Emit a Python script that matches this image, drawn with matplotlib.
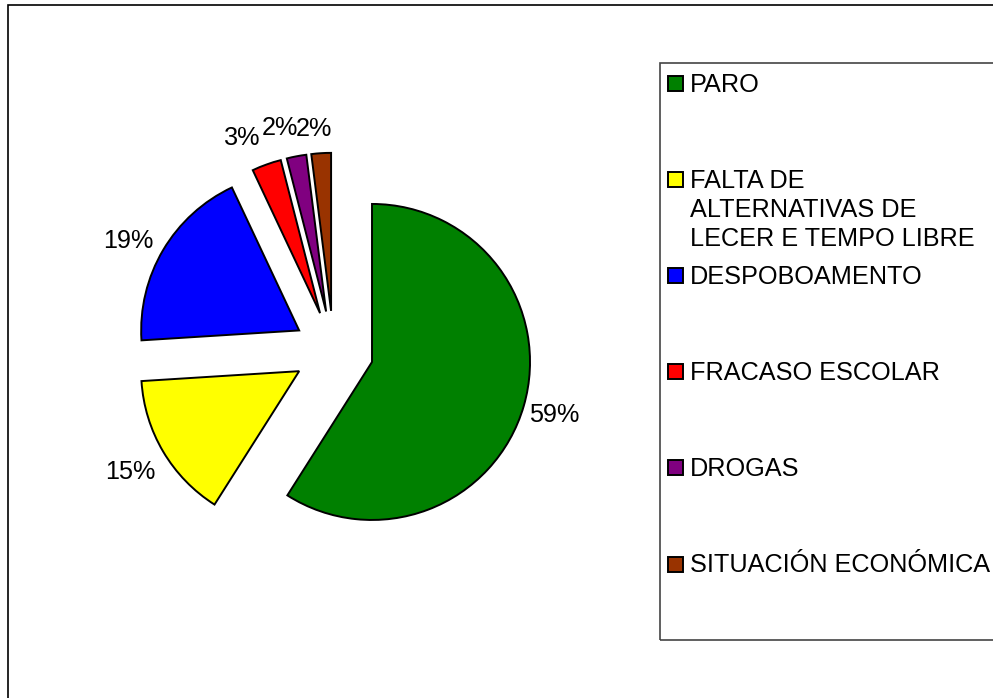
import numpy as np
import matplotlib
matplotlib.use('Agg')
import matplotlib.pyplot as plt
from matplotlib.patches import Rectangle

# Datos del gráfico
categorias = ['PARO',
              'FALTA DE\nALTERNATIVAS DE\nLECER E TEMPO LIBRE',
              'DESPOBOAMENTO',
              'FRACASO ESCOLAR',
              'DROGAS',
              'SITUACIÓN ECONÓMICA']
porcentajes = [59, 15, 19, 3, 2, 2]
colores = ['#008000', '#FFFF00', '#0000FF', '#FF0000', '#800080', '#993300']

plt.rcParams['font.family'] = ['Liberation Sans', 'DejaVu Sans']
FS = 18.2
W, H = 993, 698

fig = plt.figure(figsize=(W / 100, H / 100), dpi=100)
ax = fig.add_axes([0, 0, 1, 1])

# Tarta con todos los sectores separados (explode en unidades absolutas)
cx, cy, r = 333.6, H - 350.8, 158
wedges, textos, pcts = ax.pie(
    porcentajes, colors=colores, startangle=90, counterclock=False,
    explode=[40] * len(porcentajes), center=(cx, cy), radius=r,
    autopct='%1.0f%%', pctdistance=1.2, labels=None,
    wedgeprops=dict(edgecolor='black', linewidth=1.4),
    textprops=dict(fontsize=FS, color='black'))

# pequeños ajustes de las etiquetas (como las coloca Excel)
ajustes = {1: (-6, -4), 2: (-8, -7), 3: (-14, -3), 4: (-11, -3), 5: (-5, -7)}
for i, (dx, dy) in ajustes.items():
    x, y = pcts[i].get_position()
    pcts[i].set_position((x + dx, y + dy))

ax.set_xlim(0, W)
ax.set_ylim(0, H)
ax.set_aspect('equal')
ax.axis('off')

# Marco exterior
ax.add_patch(Rectangle((8, -20), W + 20, H - 5 + 20, fill=False,
                       edgecolor='black', linewidth=1.2, clip_on=False))

# Leyenda dibujada a mano (estilo Excel)
ax.add_patch(Rectangle((660, H - 640), W, 640 - 63, fill=False,
                       edgecolor='#444444', linewidth=1.2, clip_on=False))
ys = np.linspace(83, 564, len(categorias))
for y0, cat, col in zip(ys, categorias, colores):
    ax.add_patch(Rectangle((668, H - (y0 + 7.5)), 15, 15, facecolor=col,
                           edgecolor='black', linewidth=1.4))
    for i, linea in enumerate(cat.split('\n')):
        ax.text(690, H - (y0 + 8.5 + i * 29), linea, fontsize=FS,
                ha='left', va='baseline')

fig.savefig('out.png', dpi=100)
